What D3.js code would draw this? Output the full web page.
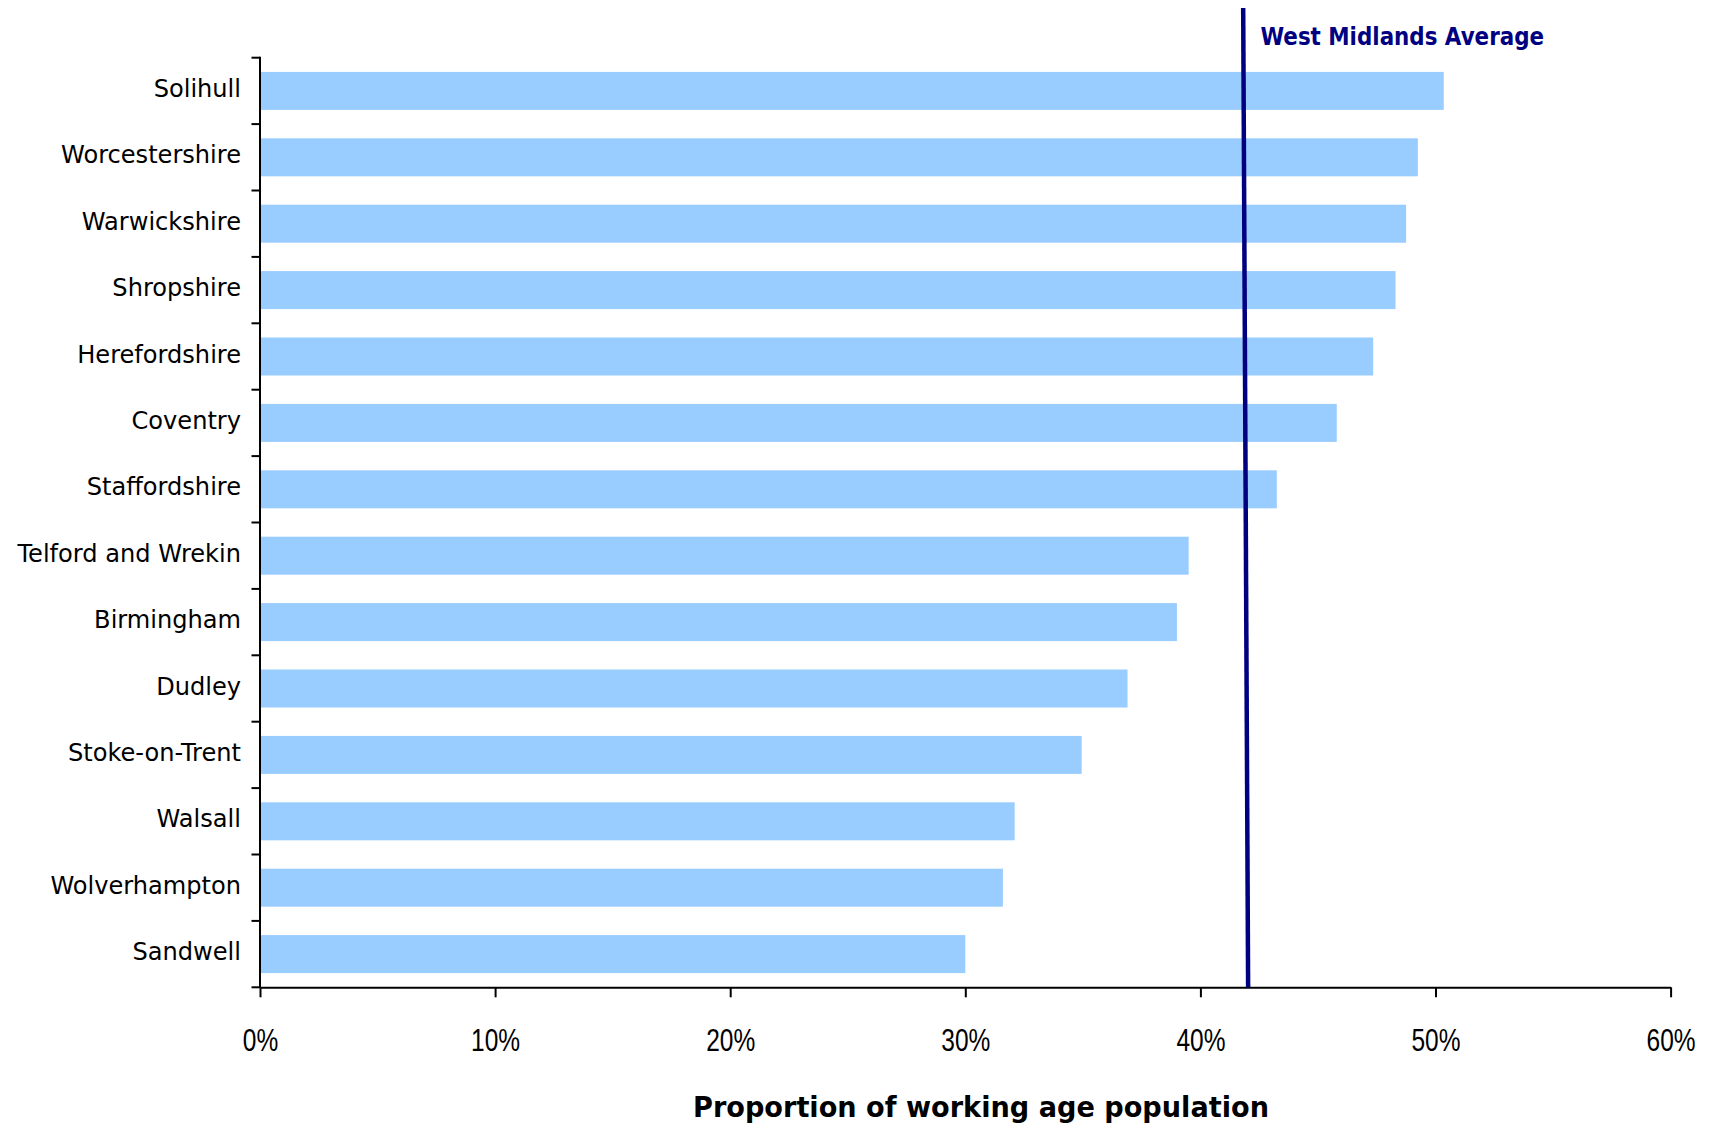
<!DOCTYPE html>
<html>
<head>
<meta charset="utf-8">
<script src="https://cdn.jsdelivr.net/npm/d3@7"></script>
<style>
  html, body { margin: 0; padding: 0; background: #ffffff; }
  svg { display: block; }
</style>
</head>
<body>
<svg id="chart" width="1709" height="1127"></svg>
<script>
// ---- data ----
const categories = ["Solihull", "Worcestershire", "Warwickshire", "Shropshire", "Herefordshire",
  "Coventry", "Staffordshire", "Telford and Wrekin", "Birmingham", "Dudley",
  "Stoke-on-Trent", "Walsall", "Wolverhampton", "Sandwell"];
const values = [50.35, 49.25, 48.75, 48.3, 47.35, 45.8, 43.25, 39.5, 39.0, 36.9, 34.95, 32.1, 31.6, 30.0];
const xTicks = [0, 10, 20, 30, 40, 50, 60];
const averageLabel = "West Midlands Average";
const averageLine = [41.82, 42.03]; // top, bottom end of the drawn average marker
const xTitle = "Proportion of working age population";

// ---- layout ----
const svg = d3.select("#chart");
const mLeft = 260, mRight = 1670.6, mTop = 57.7, mBottom = 987.3;

const x = d3.scaleLinear().domain([0, 60]).range([mLeft, mRight]);
const y = d3.scaleBand().domain(categories).range([mTop, mBottom])
  .paddingInner(0.428).paddingOuter(0.214);

// bars
svg.append("g").selectAll("rect").data(categories).join("rect")
  .attr("x", x(0))
  .attr("y", d => y(d))
  .attr("width", (d, i) => x(values[i]) - x(0))
  .attr("height", y.bandwidth())
  .attr("fill", "#99CCFF");

// y axis labels
const yAxis = svg.append("g").attr("transform", `translate(${mLeft},0)`)
  .call(d3.axisLeft(y).tickSize(0).tickPadding(0));
yAxis.select(".domain").remove();
const ySx = 0.945;
yAxis.selectAll("text")
  .attr("font-family", "DejaVu Sans")
  .attr("font-size", 25.5)
  .attr("fill", "#000")
  .attr("x", -19 / ySx)
  .attr("dy", "0.24em")
  .attr("transform", `scale(${ySx},1)`);

// y axis line and boundary ticks
const boundaries = d3.range(categories.length + 1).map(i => mTop + i * y.step());
svg.append("g").selectAll("line").data(boundaries).join("line")
  .attr("x1", mLeft - 8.5).attr("x2", mLeft)
  .attr("y1", d => d).attr("y2", d => d)
  .attr("stroke", "#000").attr("stroke-width", 2);
svg.append("line")
  .attr("x1", mLeft).attr("x2", mLeft).attr("y1", mTop - 1).attr("y2", mBottom)
  .attr("stroke", "#000").attr("stroke-width", 2);

// x axis
const xAxis = svg.append("g").attr("transform", `translate(0,${mBottom})`)
  .call(d3.axisBottom(x).tickValues(xTicks).tickFormat(d => d + "%").tickSize(10).tickSizeOuter(0));
xAxis.select(".domain").attr("stroke", "#000").attr("stroke-width", 2);
xAxis.selectAll(".tick line").attr("stroke", "#000").attr("stroke-width", 2);
const xSx = 0.79;
xAxis.selectAll(".tick text")
  .attr("font-family", "Liberation Sans")
  .attr("font-size", 31)
  .attr("fill", "#000")
  .attr("x", 0)
  .attr("y", 63.4)
  .attr("dy", 0)
  .attr("transform", `scale(${xSx},1)`);

// average marker
svg.append("line")
  .attr("x1", x(averageLine[0])).attr("y1", 8)
  .attr("x2", x(averageLine[1])).attr("y2", mBottom)
  .attr("stroke", "#000080").attr("stroke-width", 4.5);

svg.append("text")
  .attr("x", 1260.5).attr("y", 45)
  .attr("font-family", "DejaVu Sans").attr("font-weight", "bold")
  .attr("font-size", 24.5)
  .attr("fill", "#000080")
  .attr("textLength", 283.5).attr("lengthAdjust", "spacingAndGlyphs")
  .text(averageLabel);

// x title
svg.append("text")
  .attr("x", 981).attr("y", 1116.7)
  .attr("text-anchor", "middle")
  .attr("font-family", "DejaVu Sans").attr("font-weight", "bold")
  .attr("font-size", 29)
  .attr("fill", "#000")
  .attr("textLength", 576).attr("lengthAdjust", "spacingAndGlyphs")
  .text(xTitle);
</script>
</body>
</html>
